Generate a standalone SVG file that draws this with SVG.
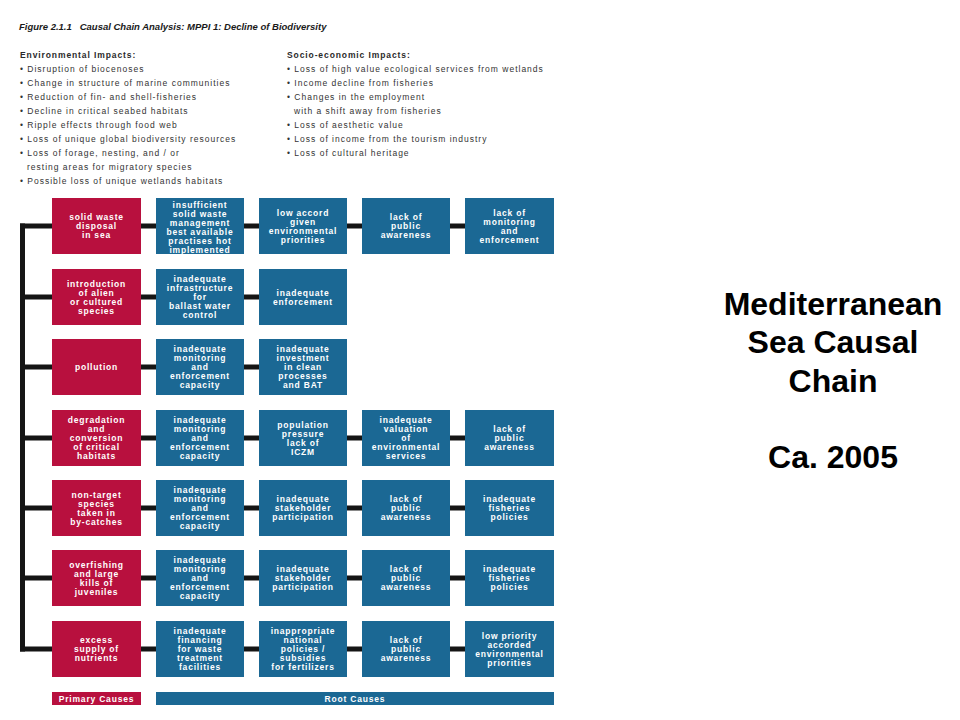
<svg xmlns="http://www.w3.org/2000/svg" width="960" height="720" viewBox="0 0 960 720">
<style>
.bg{fill:#ffffff}
.title{font-family:"Liberation Sans",Arial,sans-serif;font-size:9.5px;font-weight:bold;font-style:italic;fill:#1a1a1a}
.h{font-family:"Liberation Sans",Arial,sans-serif;font-size:8.5px;font-weight:bold;fill:#2a2a2a;letter-spacing:0.9px}
.b{font-family:"Liberation Sans",Arial,sans-serif;font-size:8.5px;fill:#333333;letter-spacing:1px}
.red{fill:#B8103E}
.blue{fill:#1B6894}
.t{font-family:"Liberation Sans",Arial,sans-serif;font-size:8.5px;font-weight:bold;fill:#ffffff;text-anchor:middle;letter-spacing:0.8px}
.conn{stroke:#151515;stroke-width:5;fill:none}
.big{font-family:"Liberation Sans",Arial,sans-serif;font-size:32px;font-weight:bold;fill:#000000;text-anchor:middle}
</style>
<rect class="bg" x="0" y="0" width="960" height="720"/>
<text class="title" x="19" y="30" xml:space="preserve">Figure 2.1.1   Causal Chain Analysis: MPPI 1: Decline of Biodiversity</text>
<g id="env-impacts">
<text class="h" x="20" y="58">Environmental Impacts:</text>
<text class="b" x="20" y="72">• Disruption of biocenoses</text>
<text class="b" x="20" y="86">• Change in structure of marine communities</text>
<text class="b" x="20" y="100">• Reduction of fin- and shell-fisheries</text>
<text class="b" x="20" y="114">• Decline in critical seabed habitats</text>
<text class="b" x="20" y="128">• Ripple effects through food web</text>
<text class="b" x="20" y="142">• Loss of unique global biodiversity resources</text>
<text class="b" x="20" y="156">• Loss of forage, nesting, and / or</text>
<text class="b" x="27" y="170">resting areas for migratory species</text>
<text class="b" x="20" y="184">• Possible loss of unique wetlands habitats</text>
</g>
<g id="socio-impacts">
<text class="h" x="287" y="58">Socio-economic Impacts:</text>
<text class="b" x="287" y="72">• Loss of high value ecological services from wetlands</text>
<text class="b" x="287" y="86">• Income decline from fisheries</text>
<text class="b" x="287" y="100">• Changes in the employment</text>
<text class="b" x="294" y="114">with a shift away from fisheries</text>
<text class="b" x="287" y="128">• Loss of aesthetic value</text>
<text class="b" x="287" y="142">• Loss of income from the tourism industry</text>
<text class="b" x="287" y="156">• Loss of cultural heritage</text>
</g>
<g id="connectors">
<path class="conn" d="M22.5 223.5 V651.5"/>
<path class="conn" d="M20 226 H52 M20 297 H52 M20 367 H52 M20 438 H52 M20 508 H52 M20 578 H52 M20 649 H52"/>
<path class="conn" d="M141 226 H156 M244 226 H259 M347 226 H362 M450 226 H465"/>
<path class="conn" d="M141 297 H156 M244 297 H259"/>
<path class="conn" d="M141 367 H156 M244 367 H259"/>
<path class="conn" d="M141 438 H156 M244 438 H259 M347 438 H362 M450 438 H465"/>
<path class="conn" d="M141 508 H156 M244 508 H259 M347 508 H362 M450 508 H465"/>
<path class="conn" d="M141 578 H156 M244 578 H259 M347 578 H362 M450 578 H465"/>
<path class="conn" d="M141 649 H156 M244 649 H259 M347 649 H362 M450 649 H465"/>
</g>
<!-- Row 1 -->
<g id="r1c0"><rect class="red" x="52" y="198" width="89" height="56"/><text class="t"><tspan x="96.5" y="220">solid waste</tspan><tspan x="96.5" y="229">disposal</tspan><tspan x="96.5" y="238">in sea</tspan></text></g>
<g id="r1c1"><rect class="blue" x="156" y="198" width="88" height="56"/><text class="t"><tspan x="200" y="207.5">insufficient</tspan><tspan x="200" y="216.5">solid waste</tspan><tspan x="200" y="225.5">management</tspan><tspan x="200" y="234.5">best available</tspan><tspan x="200" y="243.5">practises hot</tspan><tspan x="200" y="252.5">implemented</tspan></text></g>
<g id="r1c2"><rect class="blue" x="259" y="198" width="88" height="56"/><text class="t"><tspan x="303" y="215.5">low accord</tspan><tspan x="303" y="224.5">given</tspan><tspan x="303" y="233.5">environmental</tspan><tspan x="303" y="242.5">priorities</tspan></text></g>
<g id="r1c3"><rect class="blue" x="362" y="198" width="88" height="56"/><text class="t"><tspan x="406" y="220">lack of</tspan><tspan x="406" y="229">public</tspan><tspan x="406" y="238">awareness</tspan></text></g>
<g id="r1c4"><rect class="blue" x="465" y="198" width="89" height="56"/><text class="t"><tspan x="509.5" y="215.5">lack of</tspan><tspan x="509.5" y="224.5">monitoring</tspan><tspan x="509.5" y="233.5">and</tspan><tspan x="509.5" y="242.5">enforcement</tspan></text></g>
<!-- Row 2 -->
<g id="r2c0"><rect class="red" x="52" y="269" width="89" height="56"/><text class="t"><tspan x="96.5" y="286.5">introduction</tspan><tspan x="96.5" y="295.5">of alien</tspan><tspan x="96.5" y="304.5">or cultured</tspan><tspan x="96.5" y="313.5">species</tspan></text></g>
<g id="r2c1"><rect class="blue" x="156" y="269" width="88" height="56"/><text class="t"><tspan x="200" y="282">inadequate</tspan><tspan x="200" y="291">infrastructure</tspan><tspan x="200" y="300">for</tspan><tspan x="200" y="309">ballast water</tspan><tspan x="200" y="318">control</tspan></text></g>
<g id="r2c2"><rect class="blue" x="259" y="269" width="88" height="56"/><text class="t"><tspan x="303" y="295.5">inadequate</tspan><tspan x="303" y="304.5">enforcement</tspan></text></g>
<!-- Row 3 -->
<g id="r3c0"><rect class="red" x="52" y="339" width="89" height="56"/><text class="t"><tspan x="96.5" y="370">pollution</tspan></text></g>
<g id="r3c1"><rect class="blue" x="156" y="339" width="88" height="56"/><text class="t"><tspan x="200" y="352">inadequate</tspan><tspan x="200" y="361">monitoring</tspan><tspan x="200" y="370">and</tspan><tspan x="200" y="379">enforcement</tspan><tspan x="200" y="388">capacity</tspan></text></g>
<g id="r3c2"><rect class="blue" x="259" y="339" width="88" height="56"/><text class="t"><tspan x="303" y="352">inadequate</tspan><tspan x="303" y="361">investment</tspan><tspan x="303" y="370">in clean</tspan><tspan x="303" y="379">processes</tspan><tspan x="303" y="388">and BAT</tspan></text></g>
<!-- Row 4 -->
<g id="r4c0"><rect class="red" x="52" y="410" width="89" height="56"/><text class="t"><tspan x="96.5" y="423">degradation</tspan><tspan x="96.5" y="432">and</tspan><tspan x="96.5" y="441">conversion</tspan><tspan x="96.5" y="450">of critical</tspan><tspan x="96.5" y="459">habitats</tspan></text></g>
<g id="r4c1"><rect class="blue" x="156" y="410" width="88" height="56"/><text class="t"><tspan x="200" y="423">inadequate</tspan><tspan x="200" y="432">monitoring</tspan><tspan x="200" y="441">and</tspan><tspan x="200" y="450">enforcement</tspan><tspan x="200" y="459">capacity</tspan></text></g>
<g id="r4c2"><rect class="blue" x="259" y="410" width="88" height="56"/><text class="t"><tspan x="303" y="427.5">population</tspan><tspan x="303" y="436.5">pressure</tspan><tspan x="303" y="445.5">lack of</tspan><tspan x="303" y="454.5">ICZM</tspan></text></g>
<g id="r4c3"><rect class="blue" x="362" y="410" width="88" height="56"/><text class="t"><tspan x="406" y="423">inadequate</tspan><tspan x="406" y="432">valuation</tspan><tspan x="406" y="441">of</tspan><tspan x="406" y="450">environmental</tspan><tspan x="406" y="459">services</tspan></text></g>
<g id="r4c4"><rect class="blue" x="465" y="410" width="89" height="56"/><text class="t"><tspan x="509.5" y="432">lack of</tspan><tspan x="509.5" y="441">public</tspan><tspan x="509.5" y="450">awareness</tspan></text></g>
<!-- Row 5 -->
<g id="r5c0"><rect class="red" x="52" y="480" width="89" height="56"/><text class="t"><tspan x="96.5" y="497.5">non-target</tspan><tspan x="96.5" y="506.5">species</tspan><tspan x="96.5" y="515.5">taken in</tspan><tspan x="96.5" y="524.5">by-catches</tspan></text></g>
<g id="r5c1"><rect class="blue" x="156" y="480" width="88" height="56"/><text class="t"><tspan x="200" y="493">inadequate</tspan><tspan x="200" y="502">monitoring</tspan><tspan x="200" y="511">and</tspan><tspan x="200" y="520">enforcement</tspan><tspan x="200" y="529">capacity</tspan></text></g>
<g id="r5c2"><rect class="blue" x="259" y="480" width="88" height="56"/><text class="t"><tspan x="303" y="502">inadequate</tspan><tspan x="303" y="511">stakeholder</tspan><tspan x="303" y="520">participation</tspan></text></g>
<g id="r5c3"><rect class="blue" x="362" y="480" width="88" height="56"/><text class="t"><tspan x="406" y="502">lack of</tspan><tspan x="406" y="511">public</tspan><tspan x="406" y="520">awareness</tspan></text></g>
<g id="r5c4"><rect class="blue" x="465" y="480" width="89" height="56"/><text class="t"><tspan x="509.5" y="502">inadequate</tspan><tspan x="509.5" y="511">fisheries</tspan><tspan x="509.5" y="520">policies</tspan></text></g>
<!-- Row 6 -->
<g id="r6c0"><rect class="red" x="52" y="550" width="89" height="56"/><text class="t"><tspan x="96.5" y="567.5">overfishing</tspan><tspan x="96.5" y="576.5">and large</tspan><tspan x="96.5" y="585.5">kills of</tspan><tspan x="96.5" y="594.5">juveniles</tspan></text></g>
<g id="r6c1"><rect class="blue" x="156" y="550" width="88" height="56"/><text class="t"><tspan x="200" y="563">inadequate</tspan><tspan x="200" y="572">monitoring</tspan><tspan x="200" y="581">and</tspan><tspan x="200" y="590">enforcement</tspan><tspan x="200" y="599">capacity</tspan></text></g>
<g id="r6c2"><rect class="blue" x="259" y="550" width="88" height="56"/><text class="t"><tspan x="303" y="572">inadequate</tspan><tspan x="303" y="581">stakeholder</tspan><tspan x="303" y="590">participation</tspan></text></g>
<g id="r6c3"><rect class="blue" x="362" y="550" width="88" height="56"/><text class="t"><tspan x="406" y="572">lack of</tspan><tspan x="406" y="581">public</tspan><tspan x="406" y="590">awareness</tspan></text></g>
<g id="r6c4"><rect class="blue" x="465" y="550" width="89" height="56"/><text class="t"><tspan x="509.5" y="572">inadequate</tspan><tspan x="509.5" y="581">fisheries</tspan><tspan x="509.5" y="590">policies</tspan></text></g>
<!-- Row 7 -->
<g id="r7c0"><rect class="red" x="52" y="621" width="89" height="56"/><text class="t"><tspan x="96.5" y="643">excess</tspan><tspan x="96.5" y="652">supply of</tspan><tspan x="96.5" y="661">nutrients</tspan></text></g>
<g id="r7c1"><rect class="blue" x="156" y="621" width="88" height="56"/><text class="t"><tspan x="200" y="634">inadequate</tspan><tspan x="200" y="643">financing</tspan><tspan x="200" y="652">for waste</tspan><tspan x="200" y="661">treatment</tspan><tspan x="200" y="670">facilities</tspan></text></g>
<g id="r7c2"><rect class="blue" x="259" y="621" width="88" height="56"/><text class="t"><tspan x="303" y="634">inappropriate</tspan><tspan x="303" y="643">national</tspan><tspan x="303" y="652">policies /</tspan><tspan x="303" y="661">subsidies</tspan><tspan x="303" y="670">for fertilizers</tspan></text></g>
<g id="r7c3"><rect class="blue" x="362" y="621" width="88" height="56"/><text class="t"><tspan x="406" y="643">lack of</tspan><tspan x="406" y="652">public</tspan><tspan x="406" y="661">awareness</tspan></text></g>
<g id="r7c4"><rect class="blue" x="465" y="621" width="89" height="56"/><text class="t"><tspan x="509.5" y="638.5">low priority</tspan><tspan x="509.5" y="647.5">accorded</tspan><tspan x="509.5" y="656.5">environmental</tspan><tspan x="509.5" y="665.5">priorities</tspan></text></g>
<!-- Footer labels -->
<g id="primary-causes"><rect class="red" x="52" y="692" width="89" height="13"/><text class="t" x="96.5" y="701.5">Primary Causes</text></g>
<g id="root-causes"><rect class="blue" x="156" y="692" width="398" height="13"/><text class="t" x="355" y="701.5">Root Causes</text></g>
<g id="side-title">
<text class="big" x="833" y="315">Mediterranean</text>
<text class="big" x="833" y="353">Sea Causal</text>
<text class="big" x="833" y="392">Chain</text>
<text class="big" x="833" y="468">Ca. 2005</text>
</g>
</svg>
